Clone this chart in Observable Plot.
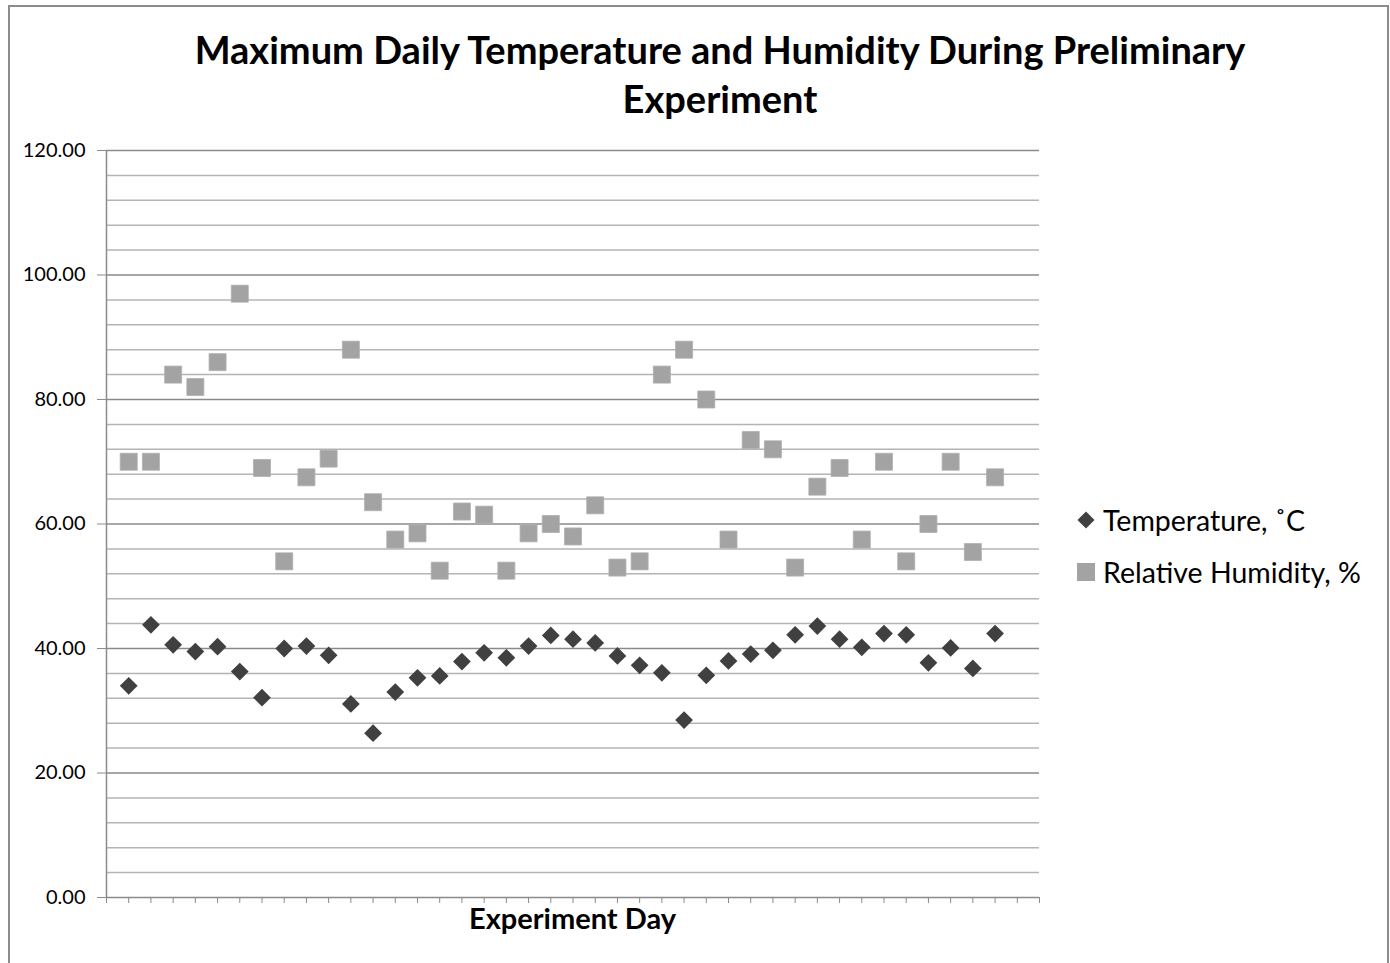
<!DOCTYPE html>
<html>
<head>
<meta charset="utf-8">
<script src="https://cdn.jsdelivr.net/npm/d3@7"></script>
<script src="https://cdn.jsdelivr.net/npm/@observablehq/plot@0.6"></script>
<style>
  html, body { margin: 0; padding: 0; background: #fff; }
  #page { position: relative; width: 1390px; height: 963px; overflow: hidden; font-family: Lato, "Open Sans", sans-serif; }
  #frame { position: absolute; left: 8px; top: 5px; width: 1381px; height: 980px; border: 2px solid #8c8c8c; box-sizing: border-box; pointer-events: none; }
  #title { position: absolute; left: 0; top: 25px; width: 1440px; text-align: center; font-weight: bold; font-size: 38px; line-height: 49px; color: #000; }
  #chart { position: absolute; left: 0; top: 130px; }
  #legend { position: absolute; left: 1076px; top: 499px; font-size: 28.5px; color: #000; }
  .item { position: relative; height: 52px; padding-left: 27px; line-height: 42px; white-space: nowrap; }
  .sym { position: absolute; left: 0; }
  #xlabel { position: absolute; left: 106px; width: 933px; top: 900px; text-align: center; font-weight: bold; font-size: 29px; }
</style>
</head>
<body>
<div id="page">
  <div id="title">Maximum Daily Temperature and Humidity During Preliminary<br>Experiment</div>
  <div id="chart"></div>
  <div id="xlabel">Experiment Day</div>
  <div id="legend"></div>
  <div id="frame"></div>
</div>
<script>
const days = d3.range(1, 41);
const temperature = [34.0, 43.8, 40.6, 39.5, 40.3, 36.3, 32.1, 40.0, 40.4, 38.9,
  31.1, 26.4, 33.0, 35.3, 35.6, 37.9, 39.3, 38.5, 40.4, 42.1,
  41.5, 40.9, 38.8, 37.3, 36.1, 28.5, 35.7, 38.0, 39.1, 39.7,
  42.2, 43.6, 41.5, 40.2, 42.4, 42.2, 37.7, 40.1, 36.8, 42.4];
const humidity = [70, 70, 84, 82, 86, 97, 69, 54, 67.5, 70.5,
  88, 63.5, 57.5, 58.5, 52.5, 62, 61.5, 52.5, 58.5, 60,
  58, 63, 53, 54, 84, 88, 80, 57.5, 73.5, 72,
  53, 66, 69, 57.5, 70, 54, 60, 70, 55.5, 67.5];
const seriesNames = ["Temperature, ˚C", "Relative Humidity, %"];
const seriesColors = ["#404040", "#a3a3a3"];
const yTicks = [0, 20, 40, 60, 80, 100, 120];
const yMinor = d3.range(4, 120, 4).filter(v => v % 20 !== 0);
const xTicks = d3.range(0, 43);

const tempData = days.map((d, i) => ({day: d, value: temperature[i]}));
const humData = days.map((d, i) => ({day: d, value: humidity[i]}));

const plot = Plot.plot({
  width: 1390,
  height: 833,
  marginTop: 20,
  marginBottom: 66,
  marginLeft: 106,
  marginRight: 351,
  style: {fontFamily: "Lato, 'Open Sans', sans-serif", fontSize: "20px", color: "#000", background: "transparent"},
  x: {domain: [0, 42], axis: null},
  y: {domain: [0, 120], axis: null},
  marks: [
    Plot.ruleY(yMinor, {stroke: "#b4b4b4", strokeWidth: 1.5}),
    Plot.ruleY(yTicks, {stroke: "#8a8a8a", strokeWidth: 1.5}),
    Plot.axisY(yTicks, {tickFormat: d => d.toFixed(2), tickSize: 9, tickPadding: 12, stroke: "#8a8a8a", fill: "#000", fontSize: 20, label: null}),
    Plot.ruleX([0], {stroke: "#8a8a8a", strokeWidth: 1.5}),
    Plot.axisX(xTicks, {tickFormat: () => "", tickSize: 6, stroke: "#8a8a8a", label: null}),
    Plot.dot(humData, {x: "day", y: "value", symbol: "square", r: 9.6, fill: seriesColors[1], stroke: "#b0b0b0", strokeWidth: 0.8}),
    Plot.dot(tempData, {x: "day", y: "value", symbol: "diamond2", r: 8, fill: seriesColors[0], stroke: "none"})
  ]
});
document.getElementById("chart").appendChild(plot);

const legend = document.getElementById("legend");
seriesNames.forEach((name, i) => {
  const item = document.createElement("div");
  item.className = "item";
  const sym = document.createElement("div");
  sym.className = "sym";
  if (i === 0) {
    sym.style.cssText = `left:4px; top:15px; width:12px; height:12px; background:${seriesColors[0]}; transform:rotate(45deg);`;
  } else {
    sym.style.cssText = `left:1px; top:12px; width:18px; height:18px; background:${seriesColors[1]};`;
  }
  item.appendChild(sym);
  item.appendChild(document.createTextNode(name));
  legend.appendChild(item);
});
</script>
</body>
</html>
